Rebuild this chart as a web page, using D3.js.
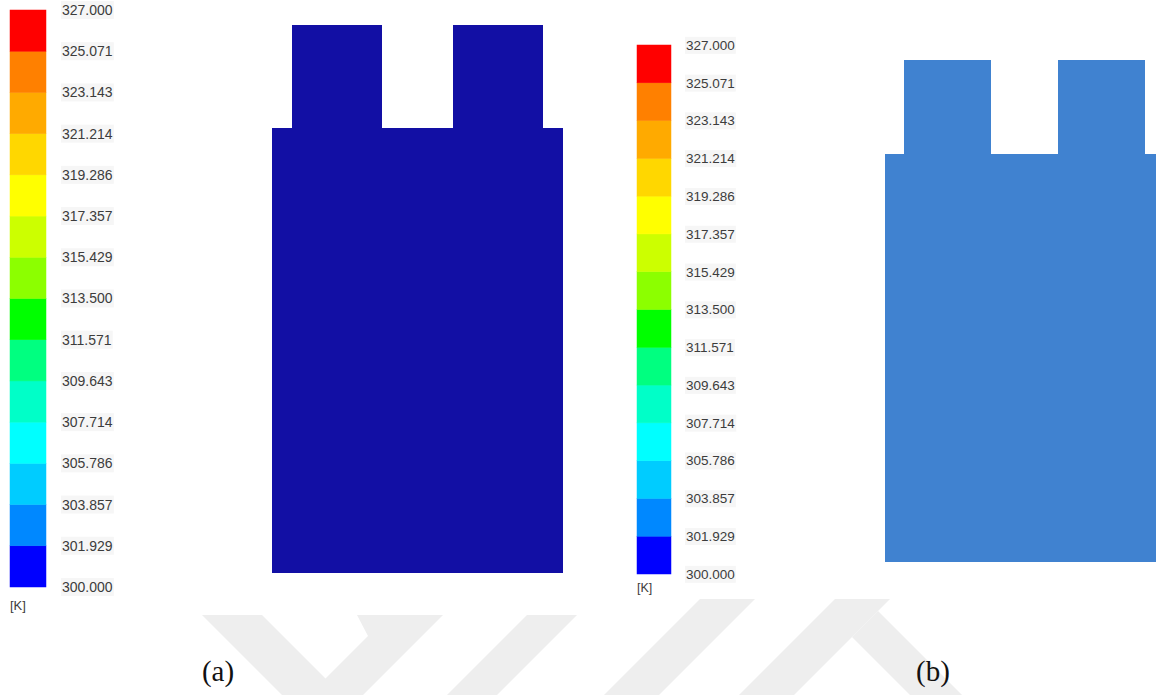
<!DOCTYPE html>
<html><head><meta charset="utf-8">
<script src="https://cdn.jsdelivr.net/npm/d3@7"></script>
<style>html,body{margin:0;padding:0;background:#fff;} svg{display:block;}</style>
</head><body><svg id="c" width="1156" height="695"></svg>
<script>
// ---- data ----
const tickValues = [300.000, 301.929, 303.857, 305.786, 307.714, 309.643, 311.571, 313.500, 315.429, 317.357, 319.286, 321.214, 323.143, 325.071, 327.000];
const bandColors = ["#0000ff","#0088ff","#00ccff","#00ffff","#00ffc8","#00ff80","#00ff00","#8cff00","#ccff00","#ffff00","#ffd700","#ffaa00","#ff8000","#ff0000"];
const unitLabel = "[K]";
const panelLabels = ["(a)", "(b)"];
// cell outline in model units (mm): body plus two tabs
const outlineX = [0, 64, 64, 59.7, 59.7, 39.7, 39.7, 24.3, 24.3, 4.3, 4.3, 0];
const outlineY = [0, 0, 98, 98, 120.6, 120.6, 98, 98, 120.6, 120.6, 98, 98];
const shapeFill = ["#120fa4", "#4082d0"];

// ---- layout ----
const svg = d3.select("#c");
svg.append("rect").attr("width",1156).attr("height",695).attr("fill","#fff");

// watermark (behind the pasted images)
const wm = svg.append("g").attr("fill","#eeeeee");
const wmPolys = [
  [[202,615],[262,615],[325.5,678.5],[368,636],[357,615],[443,615],[358,700],[287,700]],
  [[527,615],[577,615],[492,700],[442,700]],
  [[700,599],[755,599],[654,700],[599,700]],
  [[835,599],[890,599],[789,700],[734,700]],
  [[872,617],[878,611],[967,700],[915,700],[866,651],[852,637]]
];
wmPolys.forEach(p => wm.append("path").attr("d", d3.line()(p) + "Z"));
// white image areas
svg.append("rect").attr("x",0).attr("y",0).attr("width",607).attr("height",615).attr("fill","#fff");
svg.append("rect").attr("x",620).attr("y",0).attr("width",536).attr("height",599).attr("fill","#fff");

function legend(x0, barW, y0, y1, fontSize, labelPad, unitY) {
  const g = svg.append("g");
  const y = d3.scaleLinear().domain([tickValues[0], tickValues[tickValues.length-1]]).range([y1, y0]);
  g.selectAll("rect.band").data(bandColors).join("rect")
    .attr("class","band")
    .attr("x", x0).attr("width", barW)
    .attr("y", (d,i) => y(tickValues[i+1]))
    .attr("height", (d,i) => y(tickValues[i]) - y(tickValues[i+1]))
    .attr("fill", d => d)
    .attr("stroke", d => d).attr("stroke-width", 0.5);
  const ax = g.append("g").attr("transform", `translate(${x0+barW},0)`)
    .call(d3.axisRight(y).tickValues(tickValues).tickFormat(d3.format(".3f")).tickSize(0).tickPadding(labelPad));
  ax.select(".domain").remove();
  ax.selectAll("text").attr("font-family","'Liberation Sans', Arial, sans-serif")
    .attr("font-size", fontSize).attr("fill","#3c3c3c");
  ax.selectAll(".tick").each(function() {
    const t = d3.select(this).select("text");
    const bb = t.node().getBBox();
    d3.select(this).insert("rect","text").attr("x", bb.x-1).attr("y", bb.y-1)
      .attr("width", bb.width+2).attr("height", bb.height+2).attr("fill","#f6f6f6");
  });
  g.append("text").attr("x", x0).attr("y", unitY).attr("dy","0.35em")
    .attr("font-family","'Liberation Sans', Arial, sans-serif").attr("font-size", fontSize-1)
    .attr("fill","#3c3c3c").text(unitLabel);
}
legend(10, 36, 10, 587, 14, 16, 605);
legend(637, 34, 45, 574, 13.5, 15, 588);

function cell(xr, yr, fill) {
  const x = d3.scaleLinear().domain([0, 64]).range(xr);
  const y = d3.scaleLinear().domain([0, 98]).range(yr);
  const pts = outlineX.map((v,i) => [x(v), y(outlineY[i])]);
  svg.append("path").attr("d", d3.line()(pts) + "Z").attr("fill", fill)
    .attr("shape-rendering","crispEdges");
}
cell([272, 563], [573, 128], shapeFill[0]);
cell([885, 885 + 64*4.35], [562, 154], shapeFill[1]);

const lx = [218, 933];
panelLabels.forEach((t,i) => svg.append("text").attr("x", lx[i]).attr("y", 681)
  .attr("text-anchor","middle").attr("font-family","'Liberation Serif', 'Times New Roman', serif")
  .attr("font-size", 29).attr("fill","#111").text(t));
</script></body></html>
